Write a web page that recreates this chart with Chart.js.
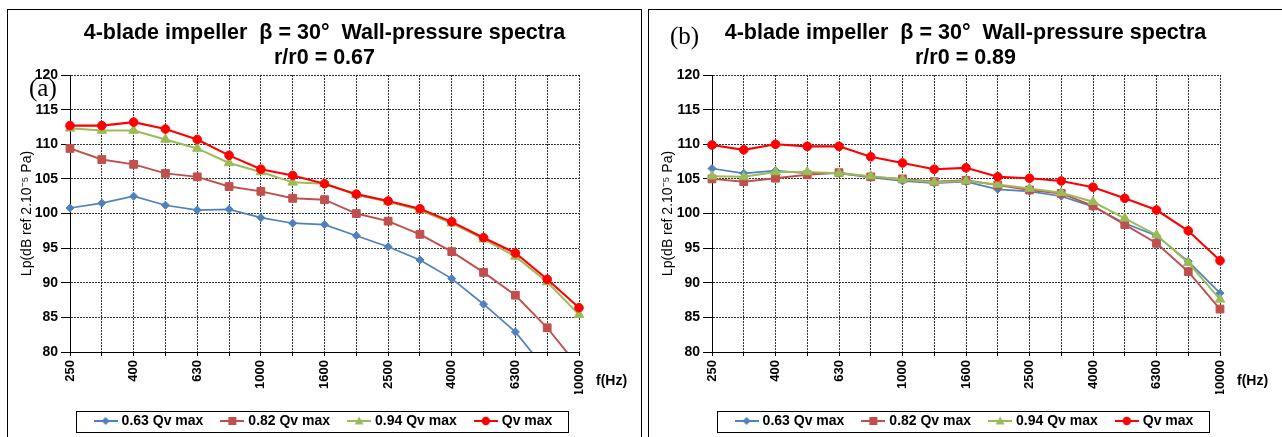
<!DOCTYPE html>
<html><head><meta charset="utf-8">
<script src="https://cdn.jsdelivr.net/npm/chart.js@4/dist/chart.umd.min.js"></script>
<style>
html,body{margin:0;padding:0;background:#fff;width:1282px;height:437px;overflow:hidden;}
.panel{position:absolute;border:1px solid #000;border-bottom:none;box-sizing:border-box;}
#pa{left:7px;top:9px;width:635px;height:440px;}
#pb{left:648px;top:9px;width:650px;height:440px;border-right:none;}
canvas{position:absolute;top:10px;}
#ca{left:8px;}
#cb{left:649px;}
</style></head><body>
<div class="panel" id="pa"></div><div class="panel" id="pb"></div>
<canvas id="ca" width="633" height="428"></canvas>
<canvas id="cb" width="633" height="428"></canvas>
<script>
// ---- data ----
const frequencies = ['250','315','400','500','630','800','1000','1250','1600','2000','2500','3150','4000','5000','6300','8000','10000'];
const shownFrequencyLabels = ['250','400','630','1000','1600','2500','4000','6300','10000'];
const seriesNames = ['0.63 Qv max','0.82 Qv max','0.94 Qv max','Qv max'];
const yAxisMin = 80, yAxisMax = 120, yAxisStep = 5;
const titleLine1 = '4-blade impeller  \u03B2 = 30\u00B0  Wall-pressure spectra';
const titleLine2A = 'r/r0 = 0.67';
const titleLine2B = 'r/r0 = 0.89';
const yAxisTitle = 'Lp(dB ref 2.10\u207B\u2075 Pa)';
const xUnitLabel = 'f(Hz)';
const panelTagA = '(a)';
const panelTagB = '(b)';

// panel (a) r/r0 = 0.67
const a_063 = [100.8,101.5,102.5,101.2,100.5,100.6,99.4,98.6,98.4,96.8,95.2,93.3,90.6,86.9,82.9,77.2,71.0];
const a_082 = [109.4,107.8,107.1,105.8,105.3,103.9,103.2,102.2,102.0,100.0,98.9,97.0,94.5,91.5,88.2,83.5,77.8];
const a_094 = [112.3,112.0,112.0,110.7,109.4,107.3,106.0,104.5,104.3,102.7,101.7,100.5,98.6,96.3,93.8,90.1,85.4];
const a_100 = [112.7,112.7,113.2,112.2,110.7,108.4,106.4,105.5,104.3,102.8,101.8,100.7,98.8,96.5,94.3,90.5,86.4];

// panel (b) r/r0 = 0.89
const b_063 = [106.5,105.8,106.2,105.8,105.8,105.2,104.7,104.4,104.6,103.5,103.2,102.5,101.0,98.6,96.8,93.1,88.5];
const b_082 = [105.0,104.6,105.1,105.6,105.9,105.3,105.0,104.6,104.8,104.1,103.4,102.9,101.1,98.4,95.7,91.6,86.2];
const b_094 = [105.4,105.3,106.0,106.0,105.8,105.4,104.9,104.5,104.7,104.2,103.6,103.0,101.7,99.3,96.9,92.9,87.6];
const b_100 = [109.9,109.2,110.0,109.7,109.7,108.2,107.3,106.4,106.6,105.3,105.1,104.7,103.8,102.2,100.5,97.5,93.2];

// ---- styles ----
const FONT = '"Liberation Sans", Arial, sans-serif';
Chart.defaults.font.family = FONT;
Chart.defaults.color = '#000';
const seriesStyles = [
  {color:'#4F81BD', point:'rectRot', radius:4, width:1.7, order:4},
  {color:'#C0504D', point:'rect', radius:5.5, width:1.9, order:3},
  {color:'#9BBB59', point:'triangle', radius:5.5, width:2, order:2},
  {color:'#FF0000', point:'circle', radius:4.3, width:2.1, order:1}
];

function makeIcon(color, style) {
  const c = document.createElement('canvas'); c.width = 24; c.height = 12;
  const g = c.getContext('2d');
  g.strokeStyle = color; g.lineWidth = 2;
  g.beginPath(); g.moveTo(0,6); g.lineTo(24,6); g.stroke();
  g.fillStyle = color; g.beginPath();
  if (style === 'circle') g.arc(12,6,4.2,0,2*Math.PI);
  else if (style === 'rect') g.rect(8,2,8,8);
  else if (style === 'triangle') { g.moveTo(12,1.5); g.lineTo(16.5,9.5); g.lineTo(7.5,9.5); g.closePath(); }
  else { g.moveTo(12,2); g.lineTo(16,6); g.lineTo(12,10); g.lineTo(8,6); g.closePath(); }
  g.fill();
  return c;
}
const legendIcons = seriesStyles.map(s => makeIcon(s.color, s.point));

const extras = {
  id: 'extras',
  afterDraw(chart, args, opts) {
    const ctx = chart.ctx;
    ctx.save();
    const hb = chart.legend.legendHitBoxes;
    if (hb && hb.length) {
      const first = hb[0], last = hb[hb.length - 1];
      const cy = first.top + first.height / 2;
      const x0 = Math.round(first.left - 21), x1 = Math.round(last.left + last.width + 16);
      ctx.strokeStyle = '#000'; ctx.lineWidth = 1;
      ctx.strokeRect(x0 + 0.5, Math.round(cy - 10.5) + 0.5, x1 - x0, 21);
    }
    ctx.fillStyle = '#000';
    ctx.textAlign = 'left';
    ctx.textBaseline = 'alphabetic';
    ctx.font = '25px "Liberation Serif", "Times New Roman", serif';
    ctx.fillText(opts.tag, opts.tagX, opts.tagY);
    ctx.font = 'bold 14px ' + FONT;
    ctx.textBaseline = 'middle';
    ctx.fillText(xUnitLabel, chart.chartArea.right + 17, chart.chartArea.bottom + 29);
    ctx.restore();
  }
};

function makeChart(id, line2, seriesData, tag, tagX, tagY, yWidth) {
  const datasets = seriesData.map((d, i) => {
    const s = seriesStyles[i];
    return {
      label: seriesNames[i], data: d,
      borderColor: s.color, backgroundColor: s.color,
      pointBackgroundColor: s.color, pointBorderColor: s.color,
      pointStyle: s.point, pointRadius: s.radius, pointBorderWidth: 1,
      borderWidth: s.width, tension: 0, order: s.order
    };
  });
  return new Chart(document.getElementById(id), {
    type: 'line',
    data: { labels: frequencies, datasets },
    plugins: [extras],
    options: {
      responsive: false, animation: false, devicePixelRatio: 1, events: [],
      layout: { padding: 0 },
      scales: {
        x: {
          type: 'category',
          grid: { color: '#333', lineWidth: 1, tickLength: 4, tickColor: '#000', tickWidth: 1 },
          border: { display: true, color: '#000', width: 1, dash: [2,1] },
          ticks: {
            autoSkip: false, maxRotation: 90, minRotation: 90, padding: 4,
            font: { size: 13, weight: 'bold' }, color: '#000',
            callback: function(v) { const l = this.getLabelForValue(v); return shownFrequencyLabels.includes(l) ? l : ''; }
          },
          afterFit: s => { s.height = 42; }
        },
        y: {
          min: yAxisMin, max: yAxisMax,
          grid: { color: '#333', lineWidth: 1, tickLength: 9, tickColor: '#000', tickWidth: 1 },
          border: { display: true, color: '#000', width: 1, dash: [2,1] },
          ticks: { stepSize: yAxisStep, padding: 3, font: { size: 14, weight: 'bold' }, color: '#000' },
          title: { display: true, text: yAxisTitle, font: { size: 14 }, color: '#000', padding: { top: 11, bottom: 0 } },
          afterFit: s => { s.width = yWidth; }
        },
        yr: {
          type: 'linear', axis: 'y', position: 'right', display: true,
          grid: { display: false, drawTicks: false }, ticks: { display: false }, border: { display: false },
          afterFit: s => { s.width = 62; }
        }
      },
      plugins: {
        title: {
          display: true, text: [titleLine1, line2], color: '#000',
          font: { size: 21.5, weight: 'bold', lineHeight: 1.15 },
          padding: { top: 11, bottom: 4.6 }
        },
        legend: {
          position: 'bottom',
          labels: {
            usePointStyle: true, pointStyleWidth: 18, padding: 20,
            font: { size: 14, weight: 'bold' }, color: '#000',
            sort: (a, b) => a.datasetIndex - b.datasetIndex,
            generateLabels: chart => {
              const items = Chart.defaults.plugins.legend.labels.generateLabels(chart);
              items.forEach(it => { it.pointStyle = legendIcons[it.datasetIndex]; });
              return items;
            }
          }
        },
        tooltip: { enabled: false },
        extras: { tag, tagX, tagY }
      }
    }
  });
}

makeChart('ca', titleLine2A, [a_063, a_082, a_094, a_100], panelTagA, 21, 86, 62);
makeChart('cb', titleLine2B, [b_063, b_082, b_094, b_100], panelTagB, 21, 34, 63);
</script>
</body></html>
